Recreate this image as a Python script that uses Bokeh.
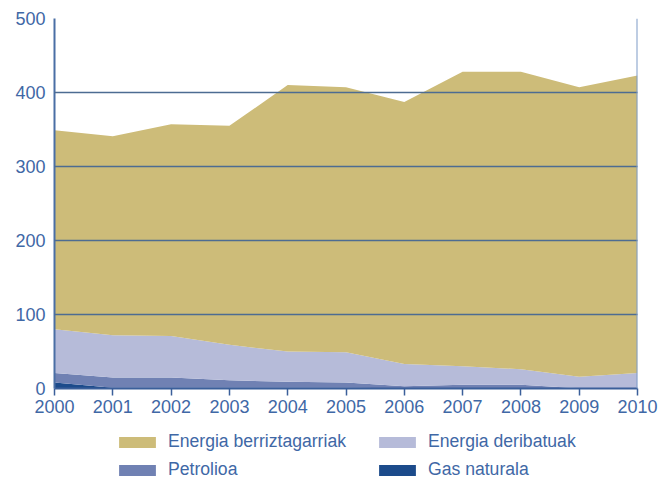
from bokeh.plotting import figure
from bokeh.layouts import column
from bokeh.models import ColumnDataSource, Legend, LegendItem, Span, FixedTicker, Range1d
from bokeh.embed import file_html
from bokeh.resources import INLINE

years = [2000, 2001, 2002, 2003, 2004, 2005, 2006, 2007, 2008, 2009, 2010]
gas_naturala = [8, 1, 1, 1, 1, 1, 0.5, 0.5, 0.5, 0, 0]
petrolioa = [13, 14, 14, 10, 8, 7, 2.5, 4.5, 4.5, 0.5, 0.5]
energia_deribatuak = [59, 57, 56, 48, 41, 41, 30, 25, 21, 15.5, 20.5]
energia_berriztagarriak = [269, 269, 286, 296, 360, 358, 354, 398, 402, 391, 402]

series_keys = ["gas", "petrol", "derived", "renew"]
series_labels = ["Gas naturala", "Petrolioa", "Energia deribatuak", "Energia berriztagarriak"]
series_colors = ["#1C4B8B", "#7081B3", "#B6BBD9", "#CDBC79"]
y_ticks = [0, 100, 200, 300, 400, 500]

data = dict(x=years, gas=gas_naturala, petrol=petrolioa,
            derived=energia_deribatuak, renew=energia_berriztagarriak)
src = ColumnDataSource(data)

TXT = "#3F68A6"
p = figure(width=670, height=420, output_backend="svg", toolbar_location=None,
           x_range=Range1d(2000, 2010), y_range=Range1d(0, 500),
           min_border_left=54, min_border_right=33, min_border_top=18, min_border_bottom=32)
p.outline_line_color = None
p.background_fill_color = "white"

rs = p.varea_stack(stackers=series_keys, x="x", color=series_colors, source=src)

for ax in (p.xaxis[0], p.yaxis[0]):
    ax.major_label_text_font = "Liberation Sans"
    ax.major_label_text_font_size = "18px"
    ax.major_label_text_color = TXT
    ax.minor_tick_line_color = None
p.xaxis.ticker = FixedTicker(ticks=years)
p.xaxis.axis_line_color = "#3B5F9A"
p.xaxis.axis_line_width = 2
p.xaxis.major_tick_line_color = "#3B5F9A"
p.xaxis.major_tick_line_width = 1.5
p.xaxis.major_tick_out = 7
p.xaxis.major_tick_in = 0
p.xaxis.major_label_standoff = 4

p.yaxis.ticker = FixedTicker(ticks=y_ticks)
p.yaxis.axis_line_color = "#4A6FA5"
p.yaxis.axis_line_width = 2
p.yaxis.major_tick_line_color = None
p.yaxis.major_tick_out = 0
p.yaxis.major_tick_in = 0
p.yaxis.major_label_standoff = 9

p.xgrid.grid_line_color = None
p.ygrid.grid_line_color = "#4D6C92"
p.ygrid.grid_line_width = 1.5
p.ygrid.level = "annotation"

p.add_layout(Span(location=2010, dimension="height", line_color="#7F9CC8", line_width=2))

# legend figure (areas kept out of view; only the legend is visible)
lg = figure(width=670, height=59, output_backend="svg", toolbar_location=None,
            x_range=Range1d(2000, 2010), y_range=Range1d(1000, 1001),
            x_axis_location=None, y_axis_location=None,
            min_border_left=0, min_border_right=0, min_border_top=0, min_border_bottom=0)
lg.outline_line_color = None
lg.grid.grid_line_color = None
lrs = lg.varea_stack(stackers=series_keys, x="x", color=series_colors,
                     source=ColumnDataSource(data))

def make_legend(idx, loc):
    return Legend(items=[LegendItem(label=series_labels[i], renderers=[lrs[i]]) for i in idx],
                  location=loc, orientation="horizontal",
                  glyph_width=46, glyph_height=14, label_standoff=8, label_width=200,
                  label_height=20, spacing=6, padding=0, margin=0,
                  border_line_color=None, background_fill_alpha=0,
                  label_text_font="Liberation Sans", label_text_font_size="17.6px",
                  label_text_color=TXT)

lg.add_layout(make_legend([3, 2], (60, 27)), "center")
lg.add_layout(make_legend([1, 0], (60, -1)), "center")

open("out.html", "w").write(file_html(column(p, lg), INLINE))
